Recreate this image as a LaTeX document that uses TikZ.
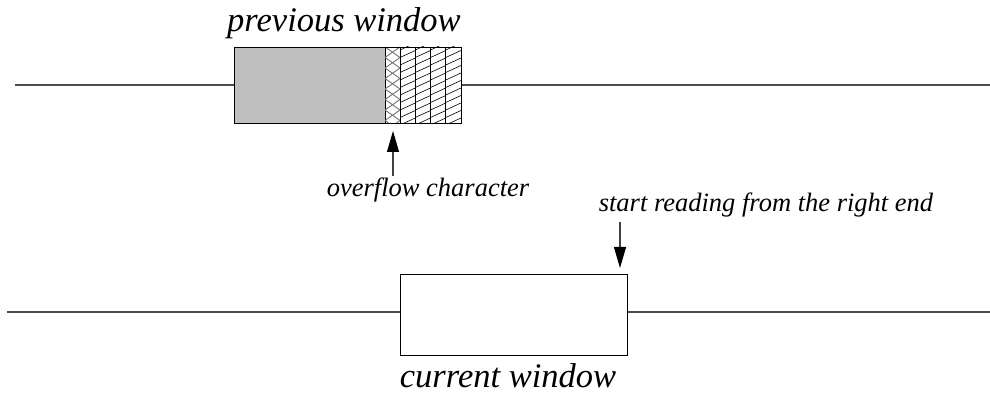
\documentclass[tikz,border=0pt]{standalone}
\usepackage{fontspec}
\setmainfont{Liberation Serif}
\usetikzlibrary{arrows.meta}
\tikzset{
  track/.style={draw=black!70, line width=1.4pt},
  winbox/.style={draw=black, line width=1.2pt, rectangle, inner sep=0pt},
  biglabel/.style={font=\fontsize{34.5}{40}\selectfont\itshape, inner sep=0pt, anchor=base},
  smalllabel/.style={font=\fontsize{26.5}{30}\selectfont\itshape, inner sep=0pt, anchor=base},
  pointer/.style={draw=black!75, line width=1.1pt, -{Triangle[width=12pt,length=21pt,fill=black,color=black]}},
  hatch/.style={draw=black, line width=0.6pt},
  cross/.style={draw=black!55, line width=0.9pt},
}
\begin{document}
\begin{tikzpicture}[x=1pt,y=-1pt]
  \useasboundingbox (0,0) rectangle (990,395);

  % time lines
  \coordinate (tl) at (15,85);
  \coordinate (tr) at (990,85);
  \coordinate (bl) at (7,312);
  \coordinate (br) at (990,312);

  % previous window: shaded part and hatched tail
  \node[winbox, fill=black!25, minimum width=151pt, minimum height=76pt, anchor=north west] (prev) at (234,47) {};
  \node[winbox, minimum width=76pt, minimum height=76pt, anchor=north west] (tail) at (385,47) {};

  % overflow character column: crossing zigzags
  \begin{scope}
    \clip (385,47) rectangle (400,123);
    \foreach \k in {0,...,4} {
      \draw[cross] (385,{47+21*\k}) -- (400,{57.5+21*\k}) -- (385,{68+21*\k});
      \draw[cross] (400,{47+21*\k}) -- (385,{57.5+21*\k}) -- (400,{68+21*\k});
    }
  \end{scope}

  % remaining characters: diagonal hatching in four columns
  \foreach \c in {0,1,2,3} {
    \begin{scope}
      \pgfmathsetmacro{\xa}{400+15.25*\c}
      \pgfmathsetmacro{\xb}{\xa+15.25}
      \clip (\xa,47) rectangle (\xb,123);
      \foreach \k in {0,...,12} {
        \draw[hatch] (\xa,{50+7.5*\k}) -- (\xb,{43+7.5*\k});
      }
    \end{scope}
    \draw[hatch, line width=0.9pt] ({400+15.25*\c},47) -- ({400+15.25*\c},123);
  }
  \node[winbox, minimum width=227pt, minimum height=76pt, anchor=north west] (prevall) at (234,47) {};

  \draw[track] (tl) -- (prevall.west |- tl);
  \draw[track] (prevall.east |- tr) -- (tr);

  % current window
  \node[winbox, fill=white, minimum width=227pt, minimum height=81pt, anchor=north west] (cur) at (400,274) {};
  \draw[track] (bl) -- (cur.west |- bl);
  \draw[track] (cur.east |- br) -- (br);

  % labels
  \node[biglabel] (prevlab) at (344,32) {previous window};
  \node[biglabel] (curlab) at (508,387) {current window};
  \node[smalllabel] (ovlab) at (428,197) {overflow character};
  \node[smalllabel] (startlab) at (766,212) {start reading from the right end};

  % pointers
  \coordinate (ovfrom) at (393,176);
  \coordinate (ovto) at (393,131);
  \coordinate (stfrom) at (620,222);
  \coordinate (stto) at (620,268);
  \draw[pointer] (ovfrom) -- (ovto);
  \draw[pointer] (stfrom) -- (stto);
\end{tikzpicture}
\end{document}
